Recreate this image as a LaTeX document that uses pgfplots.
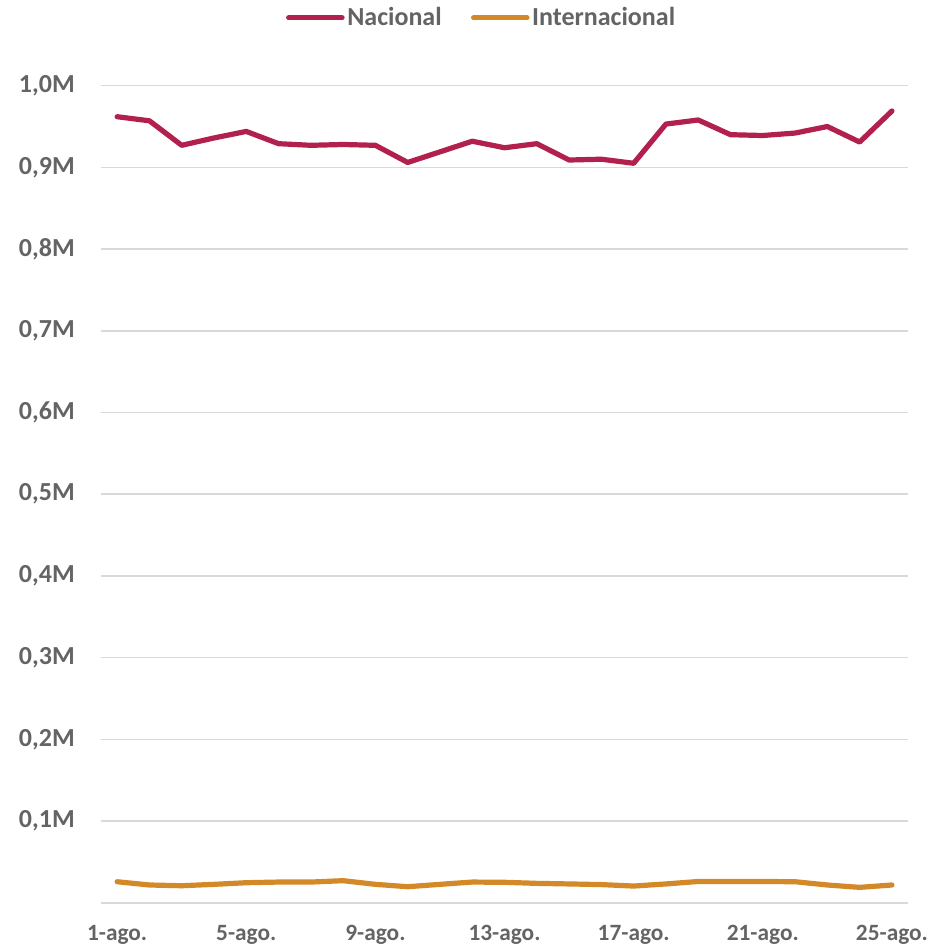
\documentclass[border=0pt]{standalone}
\usepackage{pgfplots}
\pgfplotsset{compat=1.18}
\usepackage{pgfplotstable}
\usepackage{fontspec}
\setmainfont{Carlito}
\definecolor{nac}{RGB}{178,32,78}
\definecolor{intl}{RGB}{212,137,40}
\definecolor{txt}{RGB}{100,100,100}
\definecolor{grd}{RGB}{217,217,217}

% passengers per day, millions
\pgfplotstableread{
day nac   intl
1   0.962 0.0257
2   0.957 0.0217
3   0.927 0.0208
4   0.936 0.0225
5   0.944 0.0245
6   0.929 0.0253
7   0.927 0.0253
8   0.928 0.0270
9   0.927 0.0225
10  0.906 0.0196
11  0.919 0.0225
12  0.932 0.0253
13  0.924 0.0250
14  0.929 0.0237
15  0.909 0.0230
16  0.910 0.0222
17  0.905 0.0204
18  0.953 0.0230
19  0.958 0.0260
20  0.940 0.0260
21  0.939 0.0260
22  0.942 0.0257
23  0.950 0.0217
24  0.931 0.0188
25  0.969 0.0217
}\datatable

\begin{document}
\begin{tikzpicture}
  \path[use as bounding box] (-75.75pt,-33.2pt) rectangle (626.25pt,677pt);
  \begin{axis}[
      at={(0,0)}, anchor=south west,
      scale only axis,
      width=605.25pt, height=612.75pt,
      xmin=0.5, xmax=25.5,
      ymin=0, ymax=1.0,
      axis line style={draw=none},
      major tick length=0pt,
      xtick={1,5,9,13,17,21,25},
      xticklabels={1-ago.,5-ago.,9-ago.,13-ago.,17-ago.,21-ago.,25-ago.},
      ytick={0.1,0.2,0.3,0.4,0.5,0.6,0.7,0.8,0.9,1.0},
      yticklabels={{0,1M},{0,2M},{0,3M},{0,4M},{0,5M},{0,6M},{0,7M},{0,8M},{0,9M},{1,0M}},
      extra y ticks={0},
      extra y tick labels={},
      extra y tick style={grid=major},
      ymajorgrids=true,
      grid style={grd, line width=1.2pt},
      xticklabel style={anchor=north, inner sep=0pt, yshift=-17pt,
        font=\fontsize{17.5}{20}\selectfont\bfseries, text=txt},
      yticklabel style={anchor=east, inner sep=0pt, xshift=-19.5pt,
        font=\fontsize{19.5}{22}\selectfont\bfseries, text=txt},
      legend columns=2,
      legend style={at={(0.472,1.083)}, anchor=center, draw=none, fill=none,
        font=\fontsize{19.5}{22}\selectfont\bfseries, text=txt,
        /tikz/every even column/.append style={column sep=20pt},
        inner sep=0pt},
      legend image code/.code={
        \draw[#1, line cap=round] (0pt,0pt) -- (40pt,0pt);},
    ]
    \addplot[nac, line width=3.9pt, line join=round, line cap=round]
      table[x=day, y=nac] {\datatable};
    \addlegendentry{Nacional}
    \addplot[intl, line width=3.9pt, line join=round, line cap=round]
      table[x=day, y=intl] {\datatable};
    \addlegendentry{Internacional}
  \end{axis}
\end{tikzpicture}
\end{document}
